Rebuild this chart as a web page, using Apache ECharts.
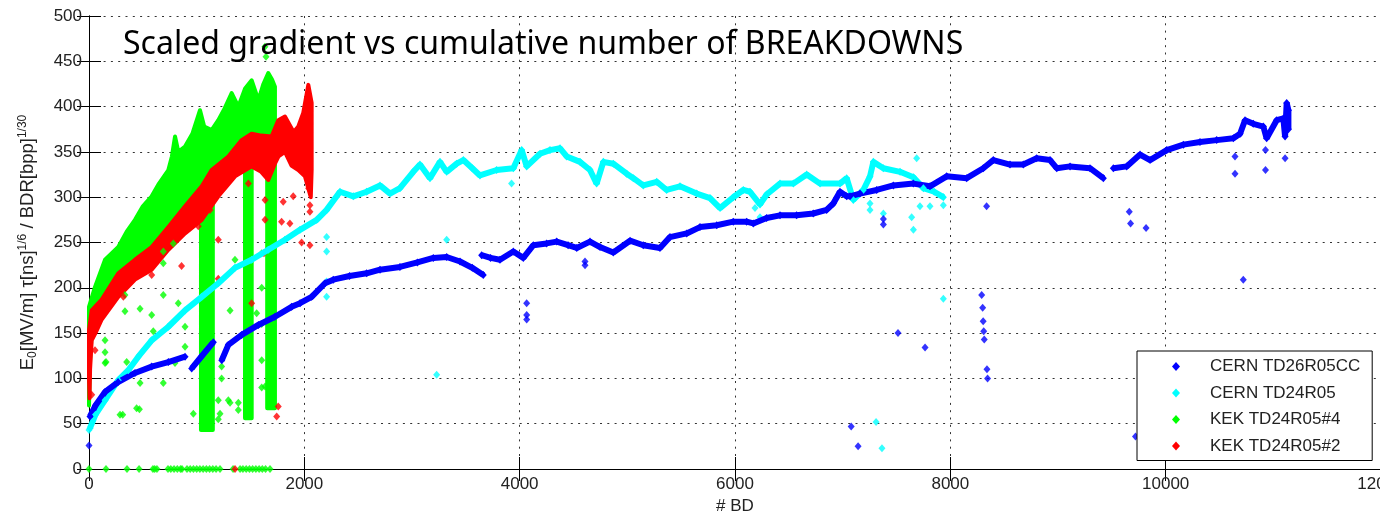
<!DOCTYPE html>
<html>
<head>
<meta charset="utf-8">
<script src="https://cdn.jsdelivr.net/npm/echarts@6/dist/echarts.min.js"></script>
<style>
  html, body { margin: 0; padding: 0; background: #fff; }
  #chart { width: 1380px; height: 517px; }
</style>
</head>
<body>
<div id="chart"></div>
<script>
// axis ticks
const xTicks = [0, 2000, 4000, 6000, 8000, 10000, 12000];
const yTicks = [0, 50, 100, 150, 200, 250, 300, 350, 400, 450, 500];

const names = ['CERN TD26R05CC', 'CERN TD24R05', 'KEK TD24R05#4', 'KEK TD24R05#2'];
const colors = ['#0000ff', '#00ffff', '#00ff00', '#ff0000'];

// CERN TD26R05CC : main trajectory ('-' breaks the trace)
const blueMain = [
  [9, 58], [60, 70], [149, 85], [270, 96], [427, 106], [582, 113], [737, 118], [892, 124], [920, '-'],
  [954, 111], [1050, 125], [1155, 140], [1190, '-'],
  [1233, 120], [1294, 137], [1418, 148], [1573, 159], [1727, 168], [1882, 179], [1960, 183], [2068, 190],
  [2192, 205], [2269, 209], [2420, 213], [2579, 216], [2703, 220], [2888, 223], [3050, 228], [3198, 233],
  [3322, 234], [3446, 229], [3560, 222], [3662, 214], [3655, '-'],
  [3647, 236], [3730, 233], [3817, 231], [3941, 240], [4034, 233], [4127, 247], [4250, 249], [4344, 251],
  [4450, 247], [4530, 244], [4653, 251], [4746, 245], [4870, 239], [5025, 252], [5148, 247], [5303, 244],
  [5396, 256], [5551, 260], [5675, 267], [5830, 269], [5984, 273], [6108, 273], [6170, 271], [6294, 277],
  [6418, 280], [6572, 280], [6727, 282], [6851, 286], [6913, 293], [6975, 306], [7037, 301], [7068, 301],
  [7161, 304], [7316, 308], [7471, 313], [7657, 315], [7811, 312], [7966, 323], [8152, 321], [8306, 332],
  [8399, 341], [8554, 336], [8678, 336], [8802, 343], [8926, 341], [8988, 332], [9112, 334], [9297, 332],
  [9421, 321], [9470, '-'],
  [9514, 332], [9638, 334], [9762, 347], [9855, 341], [10010, 352], [10165, 358], [10319, 361], [10474, 363],
  [10629, 365], [10691, 370], [10737, 385], [10814, 381], [10907, 378], [10938, 365], [11031, 385],
  [11093, 387], [11109, 367], [11124, 404], [11140, 396], [11140, 375]
];
const blueOut = [
  [0, 26], [4065, 183], [4065, 170], [4065, 165], [4607, 229], [4607, 225], [7079, 47], [7143, 25],
  [7378, 276], [7378, 270], [7514, 150], [7765, 134], [8291, 192], [8300, 178], [8305, 163], [8310, 152],
  [8315, 143], [8340, 110], [8346, 100], [8337, 290], [9662, 284], [9674, 271], [9818, 266], [9720, 36],
  [10644, 345], [10644, 326], [10721, 209], [10927, 352], [10927, 330], [11109, 343]
];

// CERN TD24R05
const cyanMain = [
  [9, 45], [60, 60], [149, 76], [272, 98], [365, 109], [458, 124], [582, 142], [737, 157], [892, 175],
  [1047, 190], [1201, 205], [1356, 222], [1511, 231], [1665, 242], [1820, 253], [1960, 264], [2115, 275],
  [2207, 286], [2331, 306], [2455, 301], [2579, 306], [2703, 313], [2796, 304], [2888, 310], [3012, 328],
  [3074, 336], [3167, 321], [3260, 339], [3322, 328], [3415, 337], [3477, 341], [3560, 332], [3631, 324],
  [3786, 330], [3941, 332], [4019, 352], [4065, 334], [4189, 348], [4282, 352], [4375, 354], [4437, 345],
  [4560, 339], [4653, 330], [4715, 315], [4777, 339], [4870, 337], [4994, 326], [5056, 321], [5148, 313],
  [5273, 317], [5365, 308], [5489, 312], [5644, 304], [5768, 299], [5861, 288], [5984, 300], [6077, 308],
  [6139, 306], [6232, 292], [6294, 303], [6418, 315], [6542, 315], [6666, 325], [6790, 315], [6975, 315],
  [7037, 321], [7099, 297], [7192, 308], [7254, 323], [7285, 339], [7378, 332], [7533, 328], [7657, 322],
  [7750, 310], [7850, 306], [7935, 300]
];
const cyanOut = [
  [0, 43], [2207, 256], [2207, 240], [2207, 207], [2207, 190], [3229, 104], [3322, 253], [3925, 315],
  [6186, 288], [6232, 278], [7254, 293], [7254, 286], [7378, 282], [7641, 278], [7657, 264], [7687, 343],
  [7718, 290], [7811, 290], [7935, 291], [7935, 188], [7310, 52], [7365, 23]
];

// KEK TD24R05#4 : dense cloud outline (upper edge left->right, lower edge right->left)
const greenTop = [
  [0, 70], [0, 179], [56, 201], [149, 231], [272, 245], [350, 262], [427, 275], [500, 290], [582, 301],
  [650, 315], [737, 330], [770, 345], [799, 367], [830, 350], [892, 356], [960, 370], [1031, 396],
  [1070, 378], [1139, 374], [1201, 385], [1260, 398], [1325, 415], [1387, 400], [1450, 420], [1511, 429],
  [1573, 407], [1620, 425], [1665, 437], [1700, 430], [1727, 422]
];
const greenBottom = [
  [1727, 67], [1655, 67], [1655, 325], [1600, 336], [1511, 340], [1511, 56], [1449, 56], [1449, 335],
  [1356, 330], [1201, 308], [1150, 300], [1150, 43], [1040, 43], [1040, 283], [892, 268], [737, 250],
  [582, 228], [427, 216], [272, 197], [118, 172], [60, 157], [25, 150], [10, 120], [0, 70]
];
const greenOut = [
  [288, 60], [313, 60], [442, 67], [468, 66], [474, 95], [690, 95], [149, 117], [149, 129], [149, 142],
  [158, 118], [350, 118], [334, 174], [334, 192], [597, 152], [582, 170], [474, 177], [829, 183], [690, 192],
  [690, 227], [690, 240], [783, 249], [799, 117], [892, 135], [892, 157], [969, 61], [1232, 113], [1232, 100],
  [1201, 76], [1294, 76], [1310, 73], [1387, 73], [1387, 65], [1217, 61], [1201, 55], [1310, 175],
  [1356, 231], [1557, 172], [1604, 238], [1604, 200], [1604, 160], [1604, 120], [1604, 90], [1635, 91],
  [1634, 466], [1644, 455]
];
const greenZero = [
  0, 158, 353, 465, 594, 610, 631, 734, 760, 790, 820, 850, 864, 910, 940, 970, 1000, 1030, 1060, 1090,
  1120, 1150, 1180, 1217, 1338, 1403, 1430, 1460, 1490, 1520, 1550, 1580, 1610, 1640, 1681
];

// KEK TD24R05#2
const redTop = [
  [0, 100], [0, 153], [25, 175], [118, 187], [272, 216], [427, 231], [582, 245], [737, 267], [892, 290],
  [1047, 312], [1139, 330], [1294, 345], [1418, 363], [1511, 370], [1600, 368], [1696, 367], [1758, 385],
  [1820, 389], [1900, 372], [1944, 378], [1990, 393], [2037, 424], [2068, 404], [2068, 330]
];
const redBottom = [
  [2060, 300], [2006, 323], [1944, 330], [1880, 335], [1820, 350], [1760, 345], [1727, 337], [1665, 319],
  [1600, 328], [1511, 334], [1356, 323], [1201, 301], [1047, 275], [892, 260], [737, 242], [582, 220],
  [427, 209], [272, 190], [118, 165], [60, 150], [25, 142], [10, 110], [5, 78]
];
const redOut = [
  [1758, 69], [1743, 58], [56, 131], [25, 82], [1897, 301], [1804, 295], [1866, 271], [1789, 273],
  [2052, 247], [2052, 291], [2052, 284], [2040, 310], [860, 224], [582, 214], [319, 190], [319, 201],
  [1201, 210], [1201, 253], [1511, 183], [1625, 238], [1480, 315], [1635, 297], [1635, 275], [1975, 250],
  [1124, 286], [1015, 268], [860, 275], [1356, 0]
];

const chart = echarts.init(document.getElementById('chart'));

function bandSeries(idx, top, bottom) {
  const pts = top.concat(bottom);
  return {
    type: 'custom',
    name: names[idx],
    data: pts,
    encode: { x: 0, y: 1 },
    itemStyle: { color: colors[idx] },
    silent: true,
    renderItem(params, api) {
      if (params.dataIndex !== 0) return null;
      return {
        type: 'polygon',
        shape: { points: pts.map(p => api.coord(p)) },
        style: { fill: colors[idx], stroke: colors[idx], lineWidth: 4, lineJoin: 'round' }
      };
    }
  };
}

function scatterSeries(idx, data, size) {
  return {
    type: 'scatter',
    name: names[idx],
    data,
    symbol: 'diamond',
    symbolSize: size || [7, 8],
    itemStyle: { color: colors[idx] },
    silent: true
  };
}

function traceSeries(idx, data) {
  return {
    type: 'line',
    name: names[idx],
    data,
    symbol: 'diamond',
    symbolSize: [7, 8],
    showSymbol: true,
    showAllSymbol: true,
    connectNulls: false,
    itemStyle: { color: colors[idx] },
    lineStyle: { color: colors[idx], width: 6 },
    silent: true
  };
}

const axisFont = { fontFamily: 'Liberation Sans', fontSize: 17, color: '#222' };
const dotted = { type: [2, 5.3], color: '#333', width: 1 };

const option = {
  animation: false,
  title: {
    text: 'Scaled gradient vs cumulative number of BREAKDOWNS',
    left: 118,
    top: 24,
    textStyle: { fontFamily: 'Noto Sans', fontSize: 32, fontWeight: 'normal', color: '#000' }
  },
  legend: {
    data: names.map(n => ({ name: n, icon: 'diamond' })),
    orient: 'vertical',
    left: 1137,
    top: 351,
    padding: [7, 12, 6, 35],
    itemWidth: 8,
    itemHeight: 9,
    itemGap: 9.5,
    backgroundColor: '#fff',
    borderColor: '#000',
    borderWidth: 1,
    borderRadius: 0,
    selectedMode: false,
    textStyle: { fontFamily: 'Liberation Sans', fontSize: 17, color: '#222', padding: [0, 0, 0, 25] }
  },
  grid: { left: 89, top: 16, width: 1292, height: 453, containLabel: false, outerBoundsMode: 'none' },
  xAxis: [{
    type: 'value',
    min: xTicks[0],
    max: xTicks[xTicks.length - 1],
    interval: xTicks[1] - xTicks[0],
    name: '# BD',
    nameLocation: 'middle',
    nameGap: 29,
    nameTextStyle: axisFont,
    axisLine: { show: true, lineStyle: { color: '#000', width: 1 } },
    axisTick: { show: true, inside: true, length: 12, lineStyle: { color: '#000' } },
    axisLabel: Object.assign({ margin: 7, formatter: v => String(v) }, axisFont),
    splitLine: { show: true, lineStyle: dotted }
  }, {
    type: 'value',
    position: 'top',
    min: xTicks[0],
    max: xTicks[xTicks.length - 1],
    interval: xTicks[1] - xTicks[0],
    axisLine: { show: true, lineStyle: { color: '#000', width: 1 } },
    axisTick: { show: true, inside: true, length: 12, lineStyle: { color: '#000' } },
    axisLabel: { show: false },
    splitLine: { show: false }
  }],
  yAxis: [{
    type: 'value',
    min: yTicks[0],
    max: yTicks[yTicks.length - 1],
    interval: yTicks[1] - yTicks[0],
    name: '{m|E}{s|0}{m|[MV/m] τ[ns]}{p|1/6}{m| / BDR[bpp]}{p|1/30}',
    nameLocation: 'middle',
    nameGap: 50,
    nameTextStyle: {
      fontFamily: 'Liberation Sans',
      color: '#222',
      rich: {
        m: { fontFamily: 'Liberation Sans', fontSize: 18.5, color: '#222' },
        s: { fontFamily: 'Liberation Sans', fontSize: 12, color: '#222', padding: [9, 0, 0, 0] },
        p: { fontFamily: 'Liberation Sans', fontSize: 12, color: '#222', padding: [0, 0, 10, 0] }
      }
    },
    axisLine: { show: true, lineStyle: { color: '#000', width: 1 } },
    axisTick: { show: true, inside: true, length: 12, lineStyle: { color: '#000' } },
    axisLabel: Object.assign({ margin: 7 }, axisFont),
    splitLine: { show: true, lineStyle: dotted }
  }, {
    type: 'value',
    position: 'right',
    min: yTicks[0],
    max: yTicks[yTicks.length - 1],
    interval: yTicks[1] - yTicks[0],
    axisLine: { show: true, lineStyle: { color: '#000', width: 1 } },
    axisTick: { show: true, inside: true, length: 12, lineStyle: { color: '#000' } },
    axisLabel: { show: false },
    splitLine: { show: false }
  }],
  series: [
    bandSeries(2, greenTop, greenBottom),
    scatterSeries(2, greenOut),
    scatterSeries(2, greenZero.map(x => [x, 0])),
    bandSeries(3, redTop, redBottom),
    scatterSeries(3, redOut),
    traceSeries(1, cyanMain),
    scatterSeries(1, cyanOut),
    traceSeries(0, blueMain),
    scatterSeries(0, blueOut)
  ]
};

chart.setOption(option);
</script>
</body>
</html>
